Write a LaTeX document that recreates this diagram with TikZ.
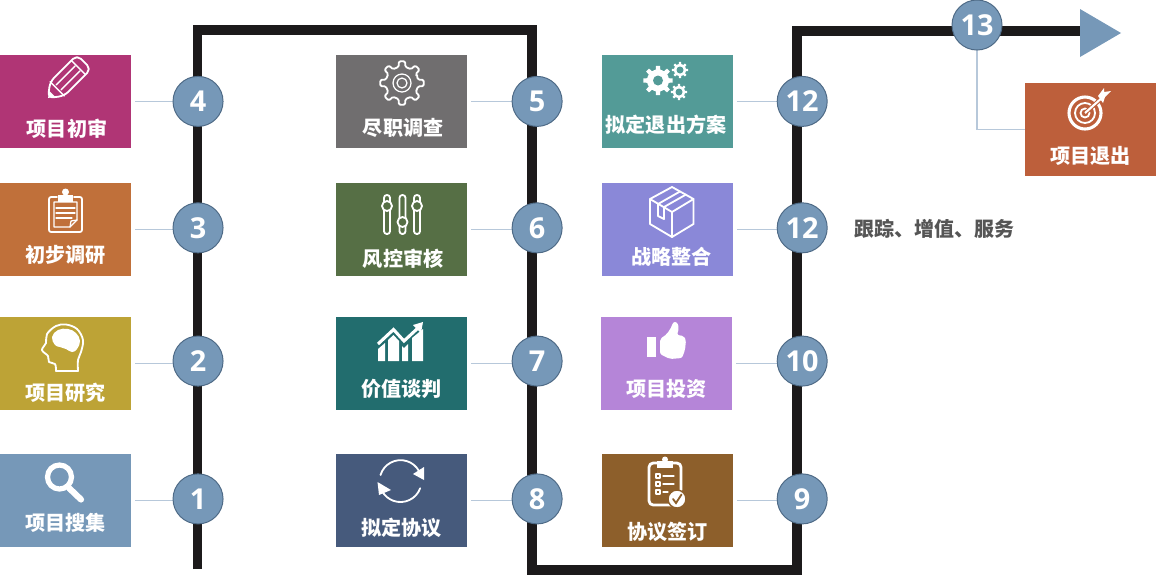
\documentclass[tikz,border=0pt]{standalone}
\usepackage{fontspec}
\setmainfont{Noto Sans CJK SC}
\newfontfamily\numfont{Open Sans}
\usetikzlibrary{positioning,backgrounds}
\definecolor{spineblack}{HTML}{1C1A1B}
\definecolor{stepblue}{HTML}{7698B8}
\definecolor{stepedge}{HTML}{4E6A86}
\definecolor{linkblue}{HTML}{B7C8DA}
\definecolor{noteGray}{HTML}{555555}
\definecolor{cSearch}{HTML}{7698B8}
\definecolor{cStudy}{HTML}{BDA336}
\definecolor{cPrelim}{HTML}{C0703A}
\definecolor{cReview}{HTML}{B03575}
\definecolor{cDue}{HTML}{706E6F}
\definecolor{cRisk}{HTML}{566F45}
\definecolor{cNego}{HTML}{226D6E}
\definecolor{cDraft}{HTML}{465A7C}
\definecolor{cSign}{HTML}{8D5F2B}
\definecolor{cInvest}{HTML}{B585D8}
\definecolor{cMerge}{HTML}{8A88D8}
\definecolor{cPlan}{HTML}{539B97}
\definecolor{cExit}{HTML}{BD5F3B}
\begin{document}
\begin{tikzpicture}[x=0.025cm, y=-0.025cm]
    \tikzset{
        stagebox/.style = {rectangle, minimum width=3.275cm, minimum height=2.325cm, inner sep=0pt, outer sep=0pt},
        stagelabel/.style = {text=white, font=\fontsize{14.3}{14.3}\selectfont\bfseries, inner sep=0pt},
        stepnum/.style = {circle, minimum size=1.25cm, inner sep=0pt, outer sep=0pt, fill=stepblue, draw=stepedge, line width=0.7pt,
                          text=white, font=\numfont\fontsize{20.5}{20.5}\selectfont\bfseries},
        spine/.style = {draw=spineblack, line width=7.1pt},
        link/.style = {draw=linkblue, line width=0.8pt},
        iconline/.style = {draw=white, line width=1.3pt, line join=round, line cap=round},
        iconfill/.style = {fill=white},
        cog/.pic = {\path[pic actions] (-22.5:1) \foreach \a in {0,45,...,315}{ -- ({\a-12}:1) -- ({\a-8}:1.35) -- ({\a+8}:1.35) -- ({\a+12}:1) -- ({\a+22.5}:1)} -- cycle;}
    }
    \useasboundingbox (0,0) rectangle (1174,575);

    \node (search) [stagebox, fill=cSearch] at (65.5,500.5) {};
    \node (study) [stagebox, fill=cStudy, above=1.1cm of search] {};
    \node (prelim) [stagebox, fill=cPrelim, above=1.025cm of study] {};
    \node (review) [stagebox, fill=cReview, above=0.875cm of prelim] {};
    \node (due) [stagebox, fill=cDue, right=5.125cm of review] {};
    \node (risk) [stagebox, fill=cRisk, right=5.125cm of prelim] {};
    \node (nego) [stagebox, fill=cNego, right=5.125cm of study] {};
    \node (draft) [stagebox, fill=cDraft, right=5.125cm of search] {};
    \node (sign) [stagebox, fill=cSign, right=3.375cm of draft] {};
    \node (invest) [stagebox, fill=cInvest, right=3.35cm of nego] {};
    \node (merge) [stagebox, fill=cMerge, right=3.375cm of risk] {};
    \node (plan) [stagebox, fill=cPlan, right=3.375cm of due] {};
    \node (exit) [stagebox, fill=cExit] at (1090.5,129.5) {};

    \node (searchLabel) [stagelabel, yshift=-0.56cm] at (search) {项目搜集};
    \node (studyLabel) [stagelabel, yshift=-0.74cm] at (study) {项目研究};
    \node (prelimLabel) [stagelabel, yshift=-0.64cm] at (prelim) {初步调研};
    \node (reviewLabel) [stagelabel, xshift=0.04cm, yshift=-0.69cm] at (review) {项目初审};
    \node (dueLabel) [stagelabel, xshift=0.04cm, yshift=-0.65cm] at (due) {尽职调查};
    \node (riskLabel) [stagelabel, xshift=0.04cm, yshift=-0.74cm] at (risk) {风控审核};
    \node (negoLabel) [stagelabel, yshift=-0.64cm] at (nego) {价值谈判};
    \node (draftLabel) [stagelabel, yshift=-0.68cm] at (draft) {拟定协议};
    \node (signLabel) [stagelabel, yshift=-0.78cm] at (sign) {协议签订};
    \node (investLabel) [stagelabel, yshift=-0.64cm] at (invest) {项目投资};
    \node (mergeLabel) [stagelabel, xshift=0.1cm, yshift=-0.68cm] at (merge) {战略整合};
    \node (planLabel) [stagelabel, xshift=-0.04cm, yshift=-0.59cm] at (plan) {拟定退出方案};
    \node (exitLabel) [stagelabel, yshift=-0.66cm] at (exit) {项目退出};

    \node (n1) [stepnum, right=1.05cm of search, yshift=0.04cm] {1};
    \node (n2) [stepnum, right=1.05cm of study, yshift=0.06cm] {2};
    \node (n3) [stepnum, right=1.05cm of prelim, yshift=0.04cm] {3};
    \node (n4) [stepnum, right=1.05cm of review] {4};
    \node (n5) [stepnum, right=1.125cm of due] {5};
    \node (n6) [stepnum, right=1.125cm of risk, yshift=0.04cm] {6};
    \node (n7) [stepnum, right=1.125cm of nego, yshift=0.06cm] {7};
    \node (n8) [stepnum, right=1.125cm of draft, yshift=0.04cm] {8};
    \node (n9) [stepnum, right=1.1cm of sign, yshift=0.04cm] {9};
    \node (n10) [stepnum, right=1.125cm of invest, yshift=0.06cm] {10};
    \node (n11) [stepnum, right=1.1cm of merge, yshift=0.04cm] {12};
    \node (n12) [stepnum, right=1.1cm of plan] {12};
    \node (n13) [stepnum] at (977,25) {13};
    \node (note) [right=0.675cm of n11, yshift=-0.03cm, inner sep=0pt, text=noteGray, font=\fontsize{14.2}{14.2}\selectfont\bfseries] {跟踪、增值、服务};

    \coordinate (spineStart) at (197.5,569);
    \coordinate (spineTop) at (532,30);
    \coordinate (spineLow) at (797,570);
    \coordinate (spineEnd) at (1081,31);

    \begin{scope}[on background layer]
        \draw [spine] (spineStart) |- (spineTop) |- (spineLow) |- (spineEnd);
        \draw [link, shorten <=0.1cm] (search.east) -- (search.east -| n1.west);
        \draw [link, shorten <=0.1cm] (study.east) -- (study.east -| n2.west);
        \draw [link, shorten <=0.1cm] (prelim.east) -- (prelim.east -| n3.west);
        \draw [link, shorten <=0.1cm] (review.east) -- (review.east -| n4.west);
        \draw [link, shorten <=0.1cm] (due.east) -- (due.east -| n5.west);
        \draw [link, shorten <=0.1cm] (risk.east) -- (risk.east -| n6.west);
        \draw [link, shorten <=0.1cm] (nego.east) -- (nego.east -| n7.west);
        \draw [link, shorten <=0.1cm] (draft.east) -- (draft.east -| n8.west);
        \draw [link, shorten <=0.1cm] (sign.east) -- (sign.east -| n9.west);
        \draw [link, shorten <=0.1cm] (invest.east) -- (invest.east -| n10.west);
        \draw [link, shorten <=0.1cm] (merge.east) -- (merge.east -| n11.west);
        \draw [link, shorten <=0.1cm] (plan.east) -- (plan.east -| n12.west);
        \draw [link] (n13.south) |- (exit.west);
    \end{scope}

    \fill [stepblue] (1080,9) -- (1121,33) -- (1080,57) -- cycle;

    \begin{scope}[shift={(48,98)}, rotate=45]
        \draw [iconline, rounded corners=4pt] (0,0) -- (13,-10) -- (51,-10) -- (51,10) -- (13,10) -- cycle;
        \draw [iconline, line width=1pt] (43,-10) -- (43,10);
        \draw [iconline, line width=1pt] (13,-10) -- (13,10);
        \draw [iconline, line width=1pt] (15,-3.5) -- (42,-3.5);
        \draw [iconline, line width=1pt] (15,3.5) -- (42,3.5);
        \fill [white] (0,0) -- (6,-4) -- (6,4) -- cycle;
    \end{scope}

    \draw [iconline, rounded corners=1.5pt] (57,197) -- (49,197) -- (49,232) -- (82,232) -- (82,197) -- (74,197);
    \draw [iconline, line width=0.9pt] (54,202) -- (77,202) -- (77,220) -- (70,227) -- (54,227) -- cycle;
    \draw [iconline, line width=0.9pt] (77,220) -- (71,221) -- (70,227);
    \fill [white] (58,195) rectangle (73,202);
    \fill [white] (65.5,192) circle (3.5);
    \draw [iconline, line width=0.9pt] (56,208) -- (75,208);
    \draw [iconline, line width=0.9pt] (56,213) -- (75,213);
    \draw [iconline, line width=0.9pt] (56,218) -- (72,218);

    \draw [iconline] plot [smooth, tension=0.6] coordinates {(56,371) (55,364) (49,362) (48,356) (42,350) (46,343) (47,334) (56,326) (66,324.5) (77,329) (83,340) (81,352) (78,360) (78,371)};
    \draw [iconline] (56,371) -- (78,371);
    \fill [white] plot [smooth cycle, tension=0.7] coordinates {(52,337) (58,330) (68,329) (76,333) (80,341) (77,349) (72,352) (66,349) (60,347) (55,345)};

    \draw [white, line width=3.7pt] (59.5,477) circle (12);
    \draw [white, line width=4.4pt, line cap=round] (69,488) -- (81,499.5);

    \pic [iconline, rounded corners=1pt, scale=16.3] at (402,83) {cog};
    \draw [iconline, line width=0.9pt] (402,83) circle (9);
    \draw [iconline, line width=0.9pt] (402,83) circle (5);

    \draw [iconline, rounded corners=2pt] (384,195) rectangle (390,234);
    \draw [iconline, rounded corners=2pt] (399.5,195) rectangle (405.5,234);
    \draw [iconline, rounded corners=2pt] (414,195) rectangle (420,234);
    \draw [iconline, fill=cRisk] (387,206) circle (5);
    \draw [iconline, fill=cRisk] (402.5,222) circle (5);
    \draw [iconline, fill=cRisk] (417,206) circle (5);

    \fill [white] (378,361) -- (378,349) -- (385,343) -- (385,361) -- cycle;
    \fill [white] (388,361) -- (388,340) -- (393.5,335) -- (399,341) -- (399,361) -- cycle;
    \fill [white] (402,361) -- (402,346) -- (404,348) -- (408,344) -- (408,361) -- cycle;
    \fill [white] (412,361) -- (412,338) -- (423,329) -- (423,361) -- cycle;
    \draw [white, line width=2.2pt] (378,344) -- (393.5,329.5) -- (404,341) -- (418,328);
    \fill [white] (423,322) -- (413,325) -- (421,333) -- cycle;

    \draw [iconline] (380.5,475) arc [start angle=197, end angle=330, radius=21];
    \fill [white] (424,467) -- (424,480) -- (413,474) -- cycle;
    \draw [iconline] (420.2,488.2) arc [start angle=20, end angle=150, radius=21];
    \fill [white] (377.5,482) -- (379,495) -- (391,490) -- cycle;

    \pic [fill=white, scale=11] at (658,80.5) {cog};
    \fill [cPlan] (658,80.5) circle (5);
    \pic [fill=white, scale=6] at (680,70) {cog};
    \fill [cPlan] (680,70) circle (3.5);
    \pic [fill=white, scale=6] at (679,92) {cog};
    \fill [cPlan] (679,92) circle (3.5);

    \draw [iconline] (672,187) -- (693.5,199) -- (693.5,224) -- (672,237) -- (650,224) -- (650,199) -- cycle;
    \draw [iconline] (650,199) -- (672,212) -- (693.5,199);
    \draw [iconline] (672,212) -- (672,237);
    \draw [iconline] (658,204) -- (680,191.5);
    \draw [iconline] (664,207) -- (686,194.5);
    \draw [iconline] (658,204) -- (658,216) -- (664,219) -- (664,207);

    \fill [white] (647.3,337) rectangle (656,356.7);
    \fill [white, rounded corners=1.5pt] (660,339) -- (667,334) -- (672,326) -- (673,322) -- (677,322) -- (679,328) -- (677,335) -- (684,336) -- (686,340) -- (685,350) -- (682,358) -- (670,359) -- (660,354) -- cycle;

    \draw [iconline, line width=2pt, rounded corners=3pt] (657,463) -- (649,463) -- (649,505) -- (672,505);
    \draw [iconline, line width=2pt, rounded corners=3pt] (673,463) -- (681,463) -- (681,490);
    \fill [white] (657,460.5) rectangle (673,468);
    \fill [white] (665,459.5) circle (3);
    \draw [iconline, line width=0.9pt] (656,474) rectangle (660,478);
    \draw [iconline, line width=0.9pt] (656,482) rectangle (660,486);
    \draw [iconline, line width=0.9pt] (656,490) rectangle (660,494);
    \draw [iconline, line width=0.9pt] (663,476) -- (674,476);
    \draw [iconline, line width=0.9pt] (663,484) -- (674,484);
    \draw [iconline, line width=0.9pt] (663,492) -- (668,492);
    \draw [cSign, line width=1pt, fill=white] (677,499) circle (9);
    \draw [cSign, line width=1.3pt, line cap=round] (673,499) -- (676,503) -- (681.5,494.5);

    \draw [iconline, line width=2.2pt] (1085,113) circle (16);
    \draw [iconline] (1085,113) circle (10);
    \draw [iconline] (1085,113) circle (4.5);
    \draw [cExit, line width=3pt] (1085,113) -- (1103,97);
    \draw [white, line width=1.5pt] (1085,113) -- (1104,96);
    \fill [white] (1098,96) -- (1104,88) -- (1104,92) -- (1111,91) -- (1105,97) -- (1103,103) -- cycle;
\end{tikzpicture}
\end{document}
